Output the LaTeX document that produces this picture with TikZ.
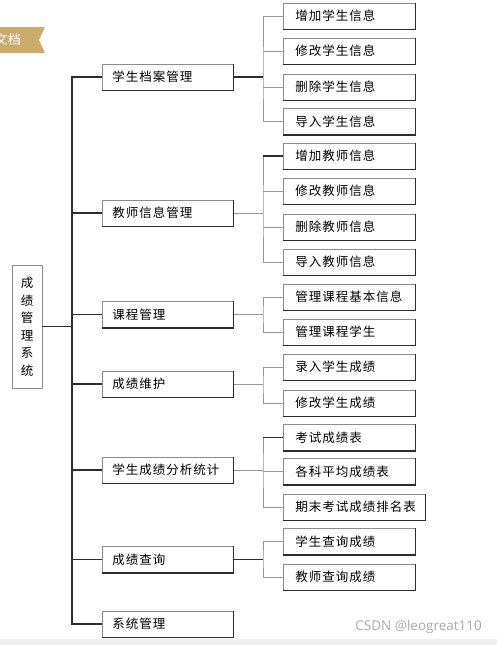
\documentclass[tikz,border=0pt]{standalone}
\usepackage{fontspec}
\newfontfamily\cjk[LetterSpace=8]{Noto Sans CJK SC}
\newfontfamily\cjkplain{Noto Sans CJK SC}
\newfontfamily\wmfont{Open Sans}
\usetikzlibrary{calc}
\definecolor{gold}{RGB}{204,170,108}
\definecolor{boxgray}{RGB}{140,140,140}
\definecolor{darkline}{RGB}{45,45,45}
\definecolor{lightline}{RGB}{150,150,150}
\definecolor{wmgray}{RGB}{170,170,170}
\definecolor{strip}{RGB}{240,240,240}
\tikzset{
  box/.style={rectangle, draw=boxgray, line width=0.8pt, fill=white,
    minimum height=26pt, inner ysep=0pt, align=left,
    font=\cjk\fontsize{12.5}{14}\selectfont},
  lone/.style={box, anchor=west, inner xsep=10pt, text width=111pt},
  ltwo/.style={box, anchor=west, inner xsep=12pt, text width=108pt},
  ltwowide/.style={box, anchor=west, inner xsep=12pt, text width=118pt},
  rootbox/.style={rectangle, draw=boxgray, line width=0.8pt, fill=white,
    minimum width=30pt, minimum height=123pt, inner sep=0pt, align=center,
    font=\cjkplain\fontsize{12.5}{17.5}\selectfont},
  shade/.style={draw=darkline, line width=1.3pt},
  trunk/.style={draw=darkline, line width=1.3pt},
  lite/.style={draw=lightline, line width=0.9pt},
}
\begin{document}
\begin{tikzpicture}[x=1pt,y=-1pt]
\useasboundingbox (0,0) rectangle (497,645);
\fill[white] (0,0) rectangle (497,645);
\fill[strip] (0,639) rectangle (497,645);
% banner
\begin{scope}
\clip (0,27) -- (45,27) -- (39,40) -- (45,53) -- (0,53) -- cycle;
\fill[gold] (0,27) rectangle (45,53);
\node[anchor=east, text=white, inner sep=0pt, font=\cjkplain\fontsize{13}{14}\selectfont] (banner) at (21,40) {文档};
\end{scope}
% root
\node[rootbox] (root) at (27,326.5) {成\\绩\\管\\理\\系\\统};
% level 1
\node[lone] (a1) at (102,77) {学生档案管理};
\node[lone] (a2) at (102,213) {教师信息管理};
\node[lone] (a3) at (102,314.5) {课程管理};
\node[lone] (a4) at (102,384) {成绩维护};
\node[lone] (a5) at (102,470) {学生成绩分析统计};
\node[lone] (a6) at (102,559.5) {成绩查询};
\node[lone] (a7) at (102,624) {系统管理};
% level 2
\node[ltwo] (s1) at (283,16) {增加学生信息};
\node[ltwo] (s2) at (283,51) {修改学生信息};
\node[ltwo] (s3) at (283,87) {删除学生信息};
\node[ltwo] (s4) at (283,121.5) {导入学生信息};
\node[ltwo] (t1) at (283,156) {增加教师信息};
\node[ltwo] (t2) at (283,191) {修改教师信息};
\node[ltwo] (t3) at (283,227) {删除教师信息};
\node[ltwo] (t4) at (283,262) {导入教师信息};
\node[ltwo] (c1) at (283,297) {管理课程基本信息};
\node[ltwo] (c2) at (283,332) {管理课程学生};
\node[ltwo] (m1) at (283,367) {录入学生成绩};
\node[ltwo] (m2) at (283,403) {修改学生成绩};
\node[ltwo] (g1) at (283,437.5) {考试成绩表};
\node[ltwo] (g2) at (283,471.5) {各科平均成绩表};
\node[ltwowide] (g3) at (283,507) {期末考试成绩排名表};
\node[ltwo] (q1) at (283,541.5) {学生查询成绩};
\node[ltwo] (q2) at (283,577) {教师查询成绩};
% shadows
\foreach \n in {a1,a2,a3,a4,a5,a6,a7,s1,s2,s3,s4,t1,t2,t3,t4,c1,c2,m1,m2,g1,g2,g3,q1,q2}
  \draw[shade] (\n.north east) -- (\n.south east) -- (\n.south west);
% trunk
\coordinate (T) at (72,326.5);
\draw[trunk] (root.east) -- (T);
\draw[trunk] (a1.west) -| (T) |- (a7.west);
\foreach \n in {a2,a3,a4,a5,a6}
  \draw[trunk] (T |- \n.west) -- (\n.west);
% groups
\coordinate (JS) at (263,77);
\coordinate (JT) at (263,213);
\coordinate (JC) at (263,314.5);
\coordinate (JM) at (263,384);
\coordinate (JG) at (263,470);
\coordinate (JQ) at (263,559.5);
\draw[lite] (s1.west) -| (JS) |- (s4.west);
\foreach \n in {s2,s3} \draw[lite] (JS |- \n.west) -- (\n.west);
\draw[trunk] (a1.east) -- (JS);
\draw[lite] (t1.west) -| (JT) |- (t4.west);
\foreach \n in {t2,t3} \draw[lite] (JT |- \n.west) -- (\n.west);
\draw[trunk] (JT |- t1.west) -- (t1.west);
\draw[lite] (a2.east) -- (JT);
\draw[lite] (c1.west) -| (JC) |- (c2.west);
\draw[lite] (a3.east) -- (JC);
\draw[lite] (m1.west) -| (JM) |- (m2.west);
\draw[lite] (a4.east) -- (JM);
\draw[lite] (g1.west) -| (JG) |- (g3.west);
\draw[lite] (JG |- g2.west) -- (g2.west);
\draw[trunk] (JG |- g1.west) -- (g1.west);
\draw[lite] (a5.east) -- (JG);
\draw[lite] (q1.west) -| (JQ) |- (q2.west);
\draw[trunk] (a6.east) -- (JQ);
% watermark
\node[anchor=east, text=wmgray, inner sep=0pt, font=\wmfont\fontsize{13.5}{15}\selectfont] (wm) at (482,627) {CSDN @leogreat110};
\end{tikzpicture}
\end{document}
